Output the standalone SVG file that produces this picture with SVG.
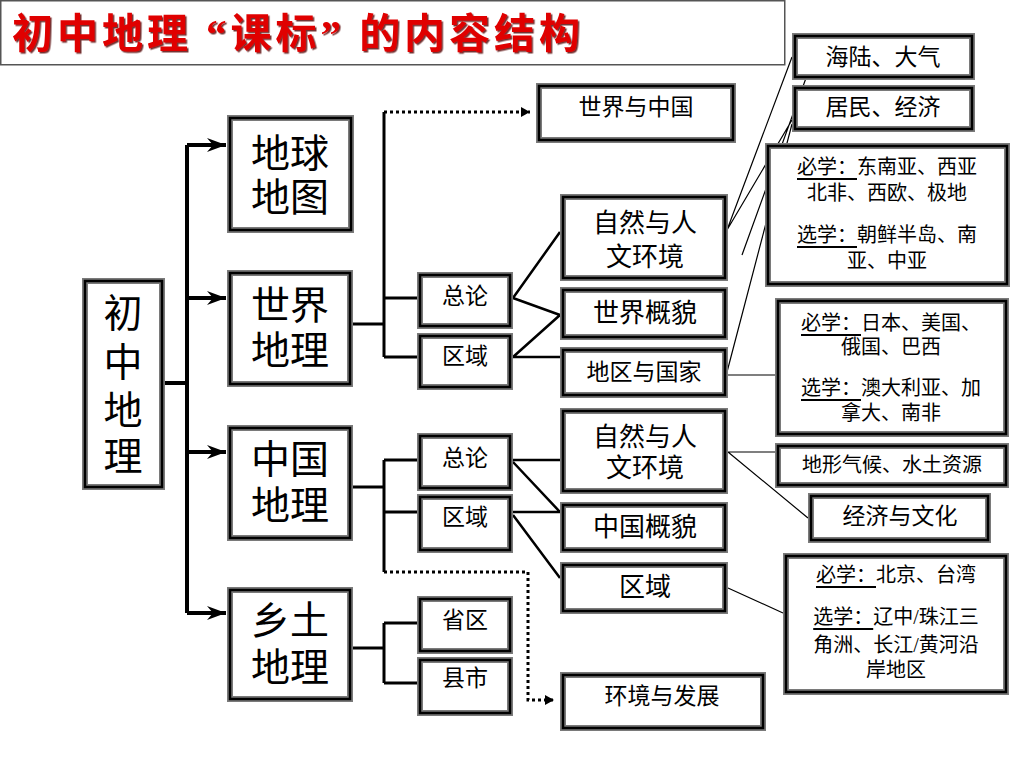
<svg xmlns="http://www.w3.org/2000/svg" width="1024" height="768" viewBox="0 0 1024 768">
<defs>
<style>
.o{fill:#fff;stroke:#7a7a7a;stroke-width:6}
.i{fill:none;stroke:#000;stroke-width:2.5}
text{font-family:"Liberation Serif","Noto Sans CJK SC",serif;text-anchor:middle;dominant-baseline:central;fill:#000}
.t1{font-size:39px}
.t2{font-size:22px}
.t3{font-size:26px}
.t4{font-size:23px}
.t5{font-size:20px}
.u{text-decoration:underline}
.c4{fill:none;stroke:#000;stroke-width:4}
.c3{fill:none;stroke:#000;stroke-width:3}
.c2{fill:none;stroke:#000;stroke-width:2.5}
.c1{fill:none;stroke:#000;stroke-width:1.2}
.d{fill:none;stroke:#000;stroke-width:3;stroke-dasharray:3 3}
</style>
<marker id="ah" markerUnits="userSpaceOnUse" markerWidth="24" markerHeight="20" viewBox="-20 -10 22 20" refX="0" refY="0" orient="auto">
<path d="M-19,-7 L0,0 L-19,7 L-13,0 Z" fill="#000"/>
</marker>
<marker id="ad" markerUnits="userSpaceOnUse" markerWidth="12" markerHeight="12" viewBox="-10 -6 12 12" refX="0" refY="0" orient="auto">
<path d="M-9,-5 L0,0 L-9,5 Z" fill="#000"/>
</marker>
<filter id="sh" x="-5%" y="-20%" width="110%" height="140%">
<feDropShadow dx="1.5" dy="1.5" stdDeviation="0.6" flood-color="#500" flood-opacity="0.8"/>
</filter>
</defs>
<rect width="1024" height="768" fill="#fff"/>

<g id="title">
<rect x="0.75" y="0.75" width="784" height="64" fill="none" stroke="#555" stroke-width="1.5"/>
<text x="12" y="34" style="text-anchor:start;font-size:41px;font-weight:bold;fill:#e00000" textLength="568" lengthAdjust="spacing" filter="url(#sh)">初中地理 “课标” 的内容结构</text>
</g>

<g id="connectors">
<path class="c4" d="M165,383 H187 M187,145 V613"/>
<path class="c4" d="M187,145 H226" marker-end="url(#ah)"/>
<path class="c4" d="M187,298 H226" marker-end="url(#ah)"/>
<path class="c4" d="M187,452 H226" marker-end="url(#ah)"/>
<path class="c4" d="M187,613 H226" marker-end="url(#ah)"/>

<path class="c3" d="M353,324 H384 M384,112 V357 M384,298 H417 M384,357 H417"/>
<path class="d" d="M384,112 H530" marker-end="url(#ad)"/>
<path class="c3" d="M353,487 H384 M384,460 V572 M384,460 H417 M384,512 H417"/>
<path class="d" d="M384,572 H528 V700 H554" marker-end="url(#ad)"/>
<path class="c3" d="M353,648 H384 M384,623 V683 M384,623 H417 M384,683 H417"/>

<path class="c2" d="M513,298 L560,232 M513,298 L560,315 M513,357 L560,315 M513,357 H560"/>
<path class="c2" d="M513,460 H560 M513,462 L560,512 M513,512 H560 M513,515 L560,578"/>

<path class="c1" d="M727,230 L792,57 M727,230 L792,120 M742,255 L810,67 M727,372 L792,124 M728,375 H775 M728,452 H775 M728,452 L808,518 M728,588 L783,613"/>
</g>

<g id="n-chuzhong">
<rect class="o" x="85" y="281" width="77" height="206"/><rect class="i" x="85" y="281" width="77" height="206"/>
<text class="t1" x="123"><tspan x="123" y="313">初</tspan><tspan x="123" y="362">中</tspan><tspan x="123" y="410">地</tspan><tspan x="123" y="456">理</tspan></text>
</g>

<g id="n-diqiu">
<rect class="o" x="230" y="118" width="121" height="112"/><rect class="i" x="230" y="118" width="121" height="112"/>
<text class="t1" x="290" y="153">地球</text><text class="t1" x="290" y="197">地图</text>
</g>
<g id="n-shijie">
<rect class="o" x="230" y="273" width="120" height="111"/><rect class="i" x="230" y="273" width="120" height="111"/>
<text class="t1" x="290" y="305">世界</text><text class="t1" x="290" y="350">地理</text>
</g>
<g id="n-zhongguo">
<rect class="o" x="230" y="428" width="120" height="110"/><rect class="i" x="230" y="428" width="120" height="110"/>
<text class="t1" x="290" y="459">中国</text><text class="t1" x="290" y="505">地理</text>
</g>
<g id="n-xiangtu">
<rect class="o" x="230" y="590" width="120" height="109"/><rect class="i" x="230" y="590" width="120" height="109"/>
<text class="t1" x="290" y="620">乡土</text><text class="t1" x="290" y="667">地理</text>
</g>

<g id="n-w-zonglun">
<rect class="o" x="420" y="275" width="90" height="51"/><rect class="i" x="420" y="275" width="90" height="51"/>
<text class="t4" x="465" y="296">总论</text>
</g>
<g id="n-w-quyu">
<rect class="o" x="420" y="336" width="90" height="51"/><rect class="i" x="420" y="336" width="90" height="51"/>
<text class="t4" x="465" y="356">区域</text>
</g>
<g id="n-shijieyuzhongguo">
<rect class="o" x="539" y="86" width="194" height="54"/><rect class="i" x="539" y="86" width="194" height="54"/>
<text class="t4" x="636" y="107">世界与中国</text>
</g>
<g id="n-w-ziran">
<rect class="o" x="563" y="197" width="162" height="81"/><rect class="i" x="563" y="197" width="162" height="81"/>
<text class="t3" x="645" y="223">自然与人</text><text class="t3" x="645" y="257">文环境</text>
</g>
<g id="n-shijiegaimao">
<rect class="o" x="563" y="290" width="162" height="47"/><rect class="i" x="563" y="290" width="162" height="47"/>
<text class="t3" x="645" y="313">世界概貌</text>
</g>
<g id="n-diquyuguojia">
<rect class="o" x="563" y="350" width="162" height="45"/><rect class="i" x="563" y="350" width="162" height="45"/>
<text class="t4" x="644" y="372">地区与国家</text>
</g>

<g id="n-hailu">
<rect class="o" x="795" y="36" width="177" height="41"/><rect class="i" x="795" y="36" width="177" height="41"/>
<text class="t4" x="883" y="57">海陆、大气</text>
</g>
<g id="n-jumin">
<rect class="o" x="795" y="88" width="177" height="41"/><rect class="i" x="795" y="88" width="177" height="41"/>
<text class="t4" x="883" y="107">居民、经济</text>
</g>
<g id="n-bixue1">
<rect class="o" x="768" y="146" width="239" height="138"/><rect class="i" x="768" y="146" width="239" height="138"/>
<text class="t5" x="887" y="167"><tspan class="u">必学：</tspan>东南亚、西亚</text>
<text class="t5" x="887" y="193">北非、西欧、极地</text>
<text class="t5" x="887" y="235"><tspan class="u">选学：</tspan>朝鲜半岛、南</text>
<text class="t5" x="887" y="261">亚、中亚</text>
</g>
<g id="n-bixue2">
<rect class="o" x="778" y="301" width="228" height="133"/><rect class="i" x="778" y="301" width="228" height="133"/>
<text class="t5" x="891" y="323"><tspan class="u">必学：</tspan>日本、美国、</text>
<text class="t5" x="891" y="347">俄国、巴西</text>
<text class="t5" x="891" y="388"><tspan class="u">选学：</tspan>澳大利亚、加</text>
<text class="t5" x="891" y="413">拿大、南非</text>
</g>
<g id="n-dixing">
<rect class="o" x="778" y="446" width="228" height="39"/><rect class="i" x="778" y="446" width="228" height="39"/>
<text class="t5" x="892" y="465">地形气候、水土资源</text>
</g>
<g id="n-jingji">
<rect class="o" x="811" y="496" width="177" height="44"/><rect class="i" x="811" y="496" width="177" height="44"/>
<text class="t4" x="900" y="516">经济与文化</text>
</g>

<g id="n-c-zonglun">
<rect class="o" x="420" y="436" width="90" height="52"/><rect class="i" x="420" y="436" width="90" height="52"/>
<text class="t4" x="465" y="458">总论</text>
</g>
<g id="n-c-quyu">
<rect class="o" x="420" y="497" width="90" height="53"/><rect class="i" x="420" y="497" width="90" height="53"/>
<text class="t4" x="465" y="517">区域</text>
</g>
<g id="n-c-ziran">
<rect class="o" x="563" y="411" width="162" height="80"/><rect class="i" x="563" y="411" width="162" height="80"/>
<text class="t3" x="645" y="437">自然与人</text><text class="t3" x="645" y="468">文环境</text>
</g>
<g id="n-zhongguogaimao">
<rect class="o" x="563" y="505" width="162" height="45"/><rect class="i" x="563" y="505" width="162" height="45"/>
<text class="t3" x="645" y="527">中国概貌</text>
</g>
<g id="n-c-quyu2">
<rect class="o" x="563" y="565" width="162" height="46"/><rect class="i" x="563" y="565" width="162" height="46"/>
<text class="t3" x="645" y="587">区域</text>
</g>
<g id="n-bixue3">
<rect class="o" x="786" y="556" width="220" height="136"/><rect class="i" x="786" y="556" width="220" height="136"/>
<text class="t5" x="896" y="575"><tspan class="u">必学：</tspan>北京、台湾</text>
<text class="t5" x="896" y="617"><tspan class="u">选学：</tspan>辽中/珠江三</text>
<text class="t5" x="896" y="645">角洲、长江/黄河沿</text>
<text class="t5" x="896" y="670">岸地区</text>
</g>

<g id="n-shengqu">
<rect class="o" x="420" y="599" width="90" height="52"/><rect class="i" x="420" y="599" width="90" height="52"/>
<text class="t4" x="465" y="620">省区</text>
</g>
<g id="n-xianshi">
<rect class="o" x="420" y="660" width="90" height="53"/><rect class="i" x="420" y="660" width="90" height="53"/>
<text class="t4" x="465" y="678">县市</text>
</g>
<g id="n-huanjing">
<rect class="o" x="563" y="675" width="200" height="53"/><rect class="i" x="563" y="675" width="200" height="53"/>
<text class="t4" x="662" y="696">环境与发展</text>
</g>
</svg>
